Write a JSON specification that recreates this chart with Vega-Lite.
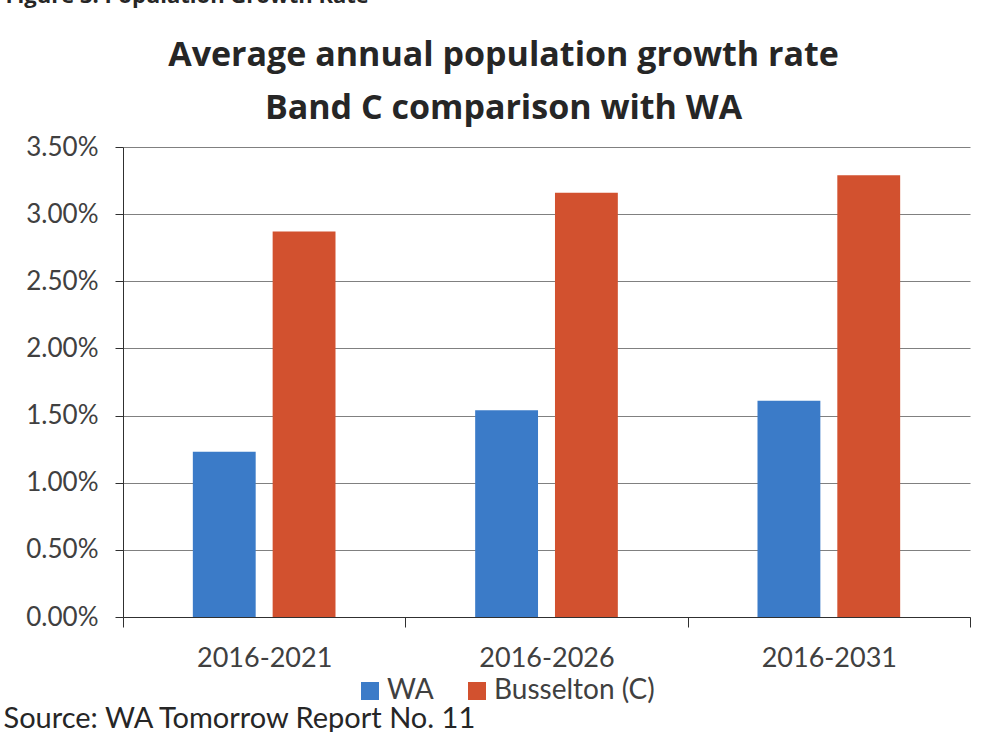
{
  "$schema": "https://vega.github.io/schema/vega-lite/v6.json",
  "autosize": {"type": "none"},
  "width": 847,
  "height": 470,
  "padding": {"left": 123, "top": 147, "right": 16, "bottom": 115},
  "background": "white",
  "config": {
    "font": "Lato",
    "view": {"stroke": null},
    "axis": {"labelFont": "Lato", "titleFont": "Lato"}
  },
  "data": {
    "values": [
      {"period": "2016-2021", "area": "WA", "rate": 0.0123},
      {"period": "2016-2021", "area": "Busselton (C)", "rate": 0.0287},
      {"period": "2016-2026", "area": "WA", "rate": 0.0154},
      {"period": "2016-2026", "area": "Busselton (C)", "rate": 0.0316},
      {"period": "2016-2031", "area": "WA", "rate": 0.0161},
      {"period": "2016-2031", "area": "Busselton (C)", "rate": 0.0329}
    ]
  },
  "encoding": {
    "x": {
      "field": "period",
      "type": "nominal",
      "sort": null,
      "scale": {"paddingInner": 0, "paddingOuter": 0},
      "axis": {
        "title": "Source: WA Tomorrow Report No. 11",
        "titleFontSize": 29,
        "titleFontWeight": "normal",
        "titleColor": "#262626",
        "titleAlign": "left",
        "titleAnchor": null,
        "titleBaseline": "alphabetic",
        "titleX": -120,
        "titleY": 110,
        "labelAngle": 0,
        "labelFontSize": 27,
        "labelColor": "#404040",
        "labelPadding": 18,
        "tickBand": "extent",
        "tickSize": 10,
        "tickColor": "#303030",
        "domainColor": "#303030",
        "grid": false
      }
    },
    "xOffset": {
      "field": "area",
      "type": "nominal",
      "sort": ["WA", "Busselton (C)"],
      "scale": {"paddingInner": 0.2125, "paddingOuter": 0.875}
    }
  },
  "layer": [
    {
      "mark": {"type": "bar"},
      "encoding": {
        "y": {
          "field": "rate",
          "type": "quantitative",
          "scale": {"domain": [0, 0.035], "nice": false},
          "axis": {
            "title": ["Average annual population growth rate", "Band C comparison with WA"],
            "titleFont": "Open Sans",
            "titleAngle": 0,
            "titleAlign": "center",
            "titleBaseline": "alphabetic",
            "titleAnchor": null,
            "titleX": 380,
            "titleY": -82,
            "titleFontSize": 34,
            "titleLineHeight": 53,
            "titleFontWeight": "bold",
            "titleColor": "#262626",
            "values": [0, 0.005, 0.01, 0.015, 0.02, 0.025, 0.03, 0.035],
            "format": ".2%",
            "labelFontSize": 26,
            "labelColor": "#404040",
            "labelPadding": 17,
            "tickSize": 8,
            "tickColor": "#303030",
            "domainColor": "#303030",
            "gridColor": "#808080",
            "gridWidth": 1.2
          }
        },
        "color": {
          "field": "area",
          "type": "nominal",
          "sort": ["WA", "Busselton (C)"],
          "scale": {"domain": ["WA", "Busselton (C)"], "range": ["#3B7BC8", "#D2512F"]},
          "legend": {
            "title": null,
            "orient": "none",
            "direction": "horizontal",
            "legendX": 233,
            "legendY": 530,
            "symbolType": "square",
            "symbolSize": 324,
            "symbolStrokeWidth": 0,
            "symbolOpacity": 1,
            "labelFontSize": 28,
            "labelColor": "#404040",
            "labelOffset": 3,
            "labelLimit": 0,
            "columnPadding": 29
          }
        }
      }
    },
    {
      "mark": {"type": "bar", "opacity": 0},
      "encoding": {
        "y": {
          "field": "rate",
          "type": "quantitative",
          "scale": {"domain": [0, 0.035], "nice": false},
          "axis": {
            "orient": "right",
            "title": "Figure 3: Population Growth Rate",
            "titleFont": "Open Sans",
            "titleFontSize": 22,
            "titleFontWeight": "bold",
            "titleColor": "#262626",
            "titleAngle": 0,
            "titleAlign": "left",
            "titleBaseline": "alphabetic",
            "titleAnchor": null,
            "titleX": -965,
            "titleY": -145,
            "domain": false,
            "ticks": false,
            "labels": false,
            "grid": false
          }
        }
      }
    }
  ],
  "resolve": {"scale": {"y": "independent"}, "axis": {"y": "independent"}}
}
